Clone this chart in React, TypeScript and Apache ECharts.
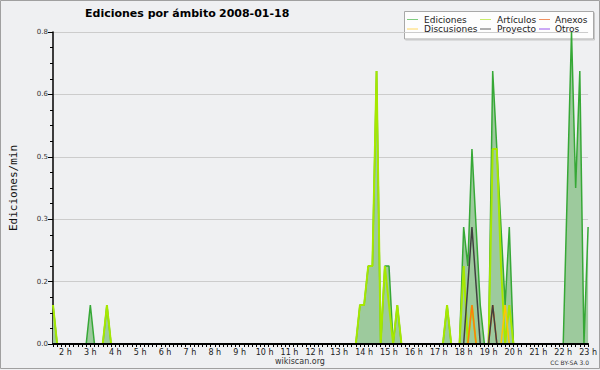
import React, { useEffect, useRef } from "react";
import * as echarts from "echarts";

// x in minutes since midnight (10-minute bins), y in edits per minute
const X_MIN = 90; // 01:30
const X_MAX = 1380; // 23:00
const Y_MAX = 0.8;
const Y_STEP = 0.16;

const EDICIONES: [number, number][] = [
  [90, 0.1], [100, 0],
  [170, 0], [180, 0.1], [190, 0],
  [210, 0], [220, 0.1], [230, 0],
  [820, 0], [830, 0.1], [840, 0.1], [850, 0.2], [860, 0.2], [870, 0.7], [880, 0],
  [890, 0.2], [900, 0.2], [910, 0], [920, 0.1], [930, 0],
  [1030, 0], [1040, 0.1], [1050, 0],
  [1070, 0], [1080, 0.3], [1090, 0.2], [1100, 0.5], [1110, 0.3], [1120, 0.1], [1130, 0],
  [1140, 0], [1150, 0.7], [1160, 0.5], [1170, 0.3], [1180, 0.1], [1190, 0.3], [1200, 0],
  [1320, 0], [1330, 0.4], [1340, 0.8], [1350, 0.4], [1360, 0.7], [1370, 0], [1380, 0.3],
];

const ARTICULOS: [number, number][] = [
  [90, 0.1], [100, 0],
  [210, 0], [220, 0.1], [230, 0],
  [820, 0], [830, 0.1], [840, 0.1], [850, 0.2], [860, 0.2], [870, 0.7], [880, 0],
  [890, 0.2], [900, 0.1], [910, 0], [920, 0.1], [930, 0],
  [1030, 0], [1040, 0.1], [1050, 0],
  [1070, 0], [1080, 0.2], [1090, 0], [1100, 0.1], [1110, 0],
  [1140, 0], [1150, 0.5], [1160, 0.5], [1170, 0.2], [1180, 0], [1190, 0.1], [1200, 0],
];

const ANEXOS: [number, number][] = [
  [1090, 0], [1100, 0.1], [1110, 0],
  [1140, 0], [1150, 0.1], [1160, 0],
];

const DISCUSIONES: [number, number][] = [
  [1170, 0], [1180, 0.1], [1190, 0],
];

const PROYECTO: [number, number][] = [
  [1080, 0], [1090, 0.15], [1100, 0.3], [1110, 0.15], [1120, 0],
  [1140, 0], [1150, 0.1], [1160, 0],
];

const OTROS: [number, number][] = [];

const SERIES_DEFS = [
  { name: "Ediciones", data: EDICIONES, color: "#36a836", width: 1.5, legend: "#7fcc7f" },
  { name: "Artículos", data: ARTICULOS, color: "#a6e800", width: 2, legend: "#c8ec6a" },
  { name: "Anexos", data: ANEXOS, color: "#ff7a10", width: 1.5, legend: "#f09060" },
  { name: "Discusiones", data: DISCUSIONES, color: "#ffc800", width: 1.5, legend: "#ffd860" },
  { name: "Proyecto", data: PROYECTO, color: "#404040", width: 1.5, legend: "#606060" },
  { name: "Otros", data: OTROS, color: "#8844ee", width: 1.5, legend: "#9955ee" },
];

// legend layout: row-major, 3 columns
const LEGEND_ORDER = ["Ediciones", "Artículos", "Anexos", "Discusiones", "Proyecto", "Otros"];

const TITLE = "Ediciones por ámbito";
const DATE = "2008-01-18";

export default function App() {
  const ref = useRef<HTMLDivElement>(null);

  useEffect(() => {
    if (!ref.current) return;
    const chart = echarts.init(ref.current, undefined, { renderer: "svg" });

    const colX = [407, 480, 539];
    const textX = [424, 497, 555];
    const rowY = [19.5, 29];
    const legendEls: any[] = [
      {
        type: "rect",
        shape: { x: 404.5, y: 11.5, width: 189, height: 27.5 },
        style: { fill: "rgba(255,255,255,0.85)", stroke: "#a8a8a8", lineWidth: 1 },
      },
      {
        type: "polyline",
        shape: { points: [[594.5, 12.5], [594.5, 40], [405.5, 40]] },
        style: { stroke: "#c8c8c8", lineWidth: 1, fill: null },
      },
    ];
    LEGEND_ORDER.forEach((name, k) => {
      const def = SERIES_DEFS.find((d) => d.name === name)!;
      const c = k % 3;
      const r = Math.floor(k / 3);
      legendEls.push({
        type: "line",
        shape: { x1: colX[c], y1: rowY[r], x2: colX[c] + 11, y2: rowY[r] },
        style: { stroke: def.legend, lineWidth: 1 },
      });
      legendEls.push({
        type: "text",
        style: {
          text: name,
          x: textX[c],
          y: rowY[r],
          font: "9px 'DejaVu Sans'",
          fill: "#222",
          verticalAlign: "middle",
          align: "left",
        },
      });
    });

    const titleFont = "bold 11px 'DejaVu Sans'";

    const option: any = {
      animation: false,
      backgroundColor: "#eff0f2",
      grid: { left: 46, right: 10, top: 32, bottom: 26, containLabel: false },
      xAxis: {
        type: "value",
        min: X_MIN,
        max: X_MAX,
        interval: 10,
        z: 5,
        axisLine: { show: true, lineStyle: { color: "#000", width: 2 } },
        axisTick: { show: true, length: 3, lineStyle: { color: "#000", width: 1 } },
        splitLine: { show: false },
        axisLabel: {
          show: true,
          margin: 4,
          fontSize: 8,
          fontFamily: "DejaVu Sans",
          color: "#222",
          showMinLabel: true,
          showMaxLabel: true,
          formatter: (v: number) => (v % 60 === 0 ? `${v / 60} h` : ""),
        },
      },
      yAxis: {
        type: "value",
        min: 0,
        max: Y_MAX,
        interval: Y_STEP,
        name: "Ediciones/min",
        nameLocation: "middle",
        nameGap: 34,
        nameTextStyle: { fontFamily: "DejaVu Sans Mono", fontSize: 11, color: "#111" },
        axisLine: { show: true, lineStyle: { color: "#000", width: 1.5 } },
        axisTick: { show: true, length: 5, lineStyle: { color: "#000" } },
        minorTick: { show: true, splitNumber: 4, length: 3, lineStyle: { color: "#000" } },
        splitLine: { show: true, lineStyle: { color: "#cccccc", width: 1 } },
        axisLabel: {
          margin: 5,
          fontSize: 7,
          fontFamily: "DejaVu Sans",
          color: "#333",
          formatter: (v: number) => v.toFixed(1),
        },
      },
      series: SERIES_DEFS.map((d, i) => ({
        type: "line",
        name: d.name,
        data: d.data,
        symbol: "none",
        z: 2 + i * 0.01,
        lineStyle: { color: d.color, width: d.width },
        itemStyle: { color: d.color },
        areaStyle: i === 0 ? { color: "#9dca9d", opacity: 1 } : undefined,
      })),
      graphic: [
        {
          type: "rect",
          z: -1,
          silent: true,
          shape: { x: 0.5, y: 0.5, width: 599, height: 368 },
          style: { fill: null, stroke: "#a0a0a0", lineWidth: 1 },
        },
        {
          type: "text",
          style: { text: TITLE, x: 85, y: 13.5, font: titleFont, fill: "#000", align: "left", verticalAlign: "middle" },
        },
        {
          type: "text",
          style: { text: DATE, x: 219, y: 13.5, font: titleFont, fill: "#000", align: "left", verticalAlign: "middle" },
        },
        {
          type: "group",
          z: 100,
          children: legendEls,
        },
        {
          type: "text",
          style: {
            text: "wikiscan.org",
            x: 300,
            y: 361,
            font: "8px 'DejaVu Sans'",
            fill: "#333",
            align: "center",
            verticalAlign: "middle",
          },
        },
        {
          type: "text",
          style: {
            text: "CC BY-SA 3.0",
            x: 589,
            y: 362,
            font: "6px 'DejaVu Sans'",
            fill: "#333",
            align: "right",
            verticalAlign: "middle",
          },
        },
      ],
    };

    chart.setOption(option);
    return () => chart.dispose();
  }, []);

  return (
    <div
      ref={ref}
      style={{ position: "fixed", left: 0, top: 0, width: 600, height: 370 }}
    />
  );
}
